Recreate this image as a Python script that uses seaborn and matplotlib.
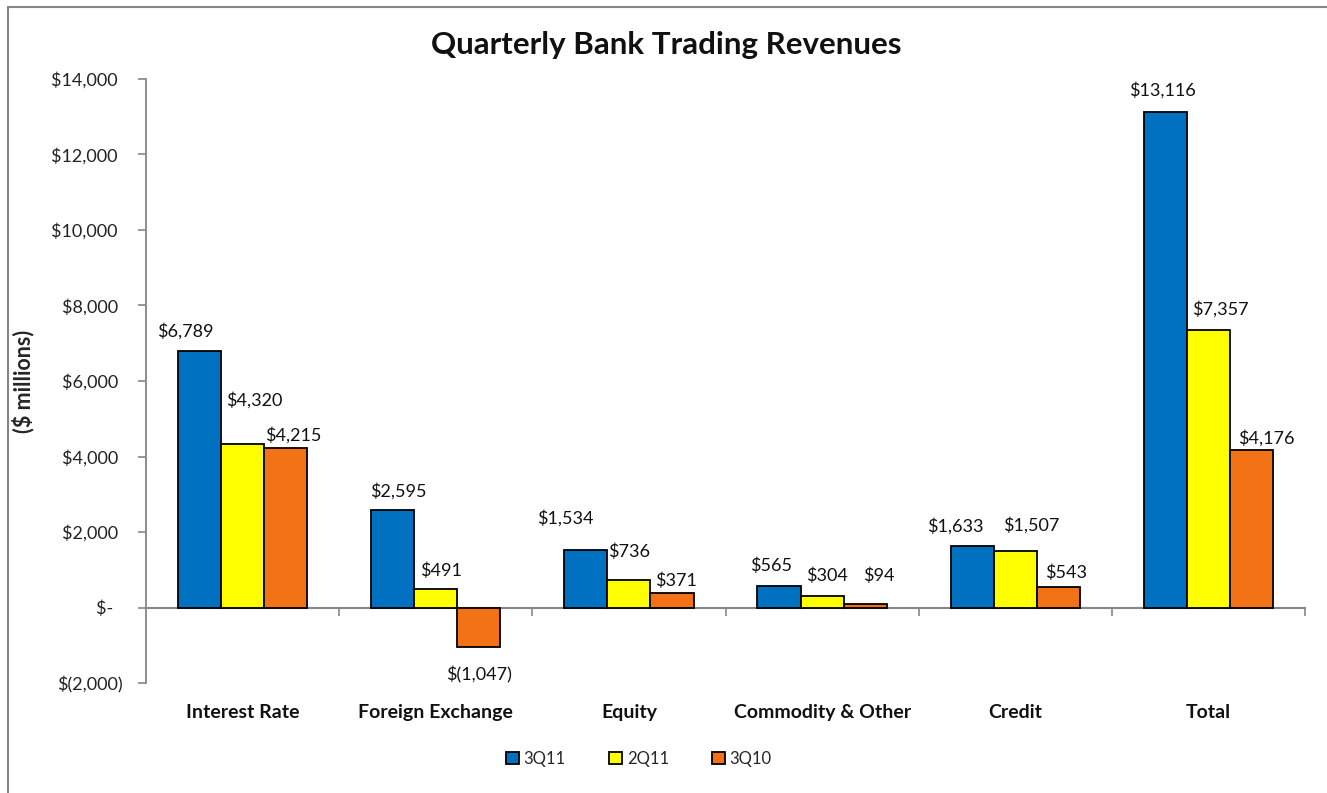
import matplotlib
matplotlib.use("Agg")
import matplotlib.pyplot as plt
import seaborn as sns
import pandas as pd
from matplotlib.lines import Line2D

categories = ["Interest Rate", "Foreign Exchange", "Equity", "Commodity & Other", "Credit", "Total"]
series_names = ["3Q11", "2Q11", "3Q10"]
q3_11 = [6789, 2595, 1534, 565, 1633, 13116]
q2_11 = [4320, 491, 736, 304, 1507, 7357]
q3_10 = [4215, -1047, 371, 94, 543, 4176]
y_ticks = [-2000, 0, 2000, 4000, 6000, 8000, 10000, 12000, 14000]

colors = ["#0070C0", "#FFFF00", "#F37216"]
# label offsets (pixels) relative to each bar end, per series
label_offsets = [
    [(-14, 20), (6, 18), (-20, 31), (-8, 20), (-17, 20), (-3, 22)],
    [(12, 44), (5, 18), (0, 28), (5, 20), (16, 25), (12, 21)],
    [(8, 13), (0, -28), (4, 13), (14, 28), (8, 14), (15, 12)],
]

sns.set_theme(style="white")
plt.rcParams["font.family"] = ["Lato", "DejaVu Sans"]

rows = []
for name, vals in zip(series_names, [q3_11, q2_11, q3_10]):
    for c, v in zip(categories, vals):
        rows.append({"category": c, "series": name, "value": v})
df = pd.DataFrame(rows)

fig = plt.figure(figsize=(13.27, 7.93), dpi=100)
ax = fig.add_axes([146 / 1327, 1 - 683 / 793, (1305 - 146) / 1327, (683 - 79) / 793])

sns.barplot(data=df, x="category", y="value", hue="series", order=categories,
            hue_order=series_names, palette=colors, width=0.67, ax=ax,
            edgecolor="black", linewidth=1.3, saturation=1, errorbar=None)

ax.set_ylim(-2000, 14000)
ax.set_xlim(-0.5, 5.5)


def fmt(v):
    if v == 0:
        return "$-  "
    if v < 0:
        return "$({:,.0f})".format(-v)
    return "${:,.0f} ".format(v)


ax.set_yticks(y_ticks)
ax.set_yticklabels([fmt(v) for v in y_ticks])
ax.tick_params(axis="y", which="major", direction="out", length=6, width=1.2,
               color="#868686", labelsize=13, pad=11, left=True, labelcolor="#222222")

ax.set_xticks(range(len(categories)))
ax.set_xticklabels(categories, fontweight="bold", fontsize=14)
ax.tick_params(axis="x", length=0, pad=15, labelcolor="#111111")
ax.set_xlabel("")
ax.set_ylabel("($ millions)", fontweight="bold", fontsize=15.5, labelpad=12)

for s in ["top", "right", "bottom"]:
    ax.spines[s].set_visible(False)
ax.spines["left"].set_color("#868686")
ax.spines["left"].set_linewidth(1.3)

# zero axis with category separators
sec = ax.secondary_xaxis(0, transform=ax.transData)
sec.set_xticks([i + 0.5 for i in range(len(categories))])
sec.set_xticklabels([])
sec.tick_params(direction="out", length=6, width=1.2, color="#868686")
sec.spines["bottom"].set_color("#868686")
sec.spines["bottom"].set_linewidth(1.5)
ax.set_zorder(1)

# data labels
for si, cont in enumerate(ax.containers):
    vals = [q3_11, q2_11, q3_10][si]
    for ci, bar in enumerate(cont):
        v = vals[ci]
        x = bar.get_x() + bar.get_width() / 2
        dx, dy = label_offsets[si][ci]
        ax.annotate(fmt(v).strip(), xy=(x, v), xytext=(dx, dy), textcoords="offset pixels",
                    ha="center", va="center", fontsize=13, color="#111111")

leg = ax.get_legend()
if leg is not None:
    leg.remove()
handles = [cont[0] for cont in ax.containers]
fig.legend(handles, series_names, loc="center", bbox_to_anchor=(639 / 1327, 1 - 759 / 793),
           ncol=3, frameon=False, fontsize=12, handlelength=0.75, handleheight=0.75,
           handletextpad=0.3, columnspacing=2.6)

fig.suptitle("Quarterly Bank Trading Revenues", x=666 / 1327, y=1 - 45 / 793, va="center",
             fontsize=22.5, fontweight="bold", color="#111111")

# chart-area frame (only left and top edges are inside the picture)
bx, by = 8 / 1327, 1 - 7 / 793
fig.add_artist(Line2D([bx, bx], [0, by], transform=fig.transFigure, color="#868686", linewidth=1.5))
fig.add_artist(Line2D([bx, 1], [by, by], transform=fig.transFigure, color="#868686", linewidth=1.5))

fig.savefig("out.png", dpi=100)
